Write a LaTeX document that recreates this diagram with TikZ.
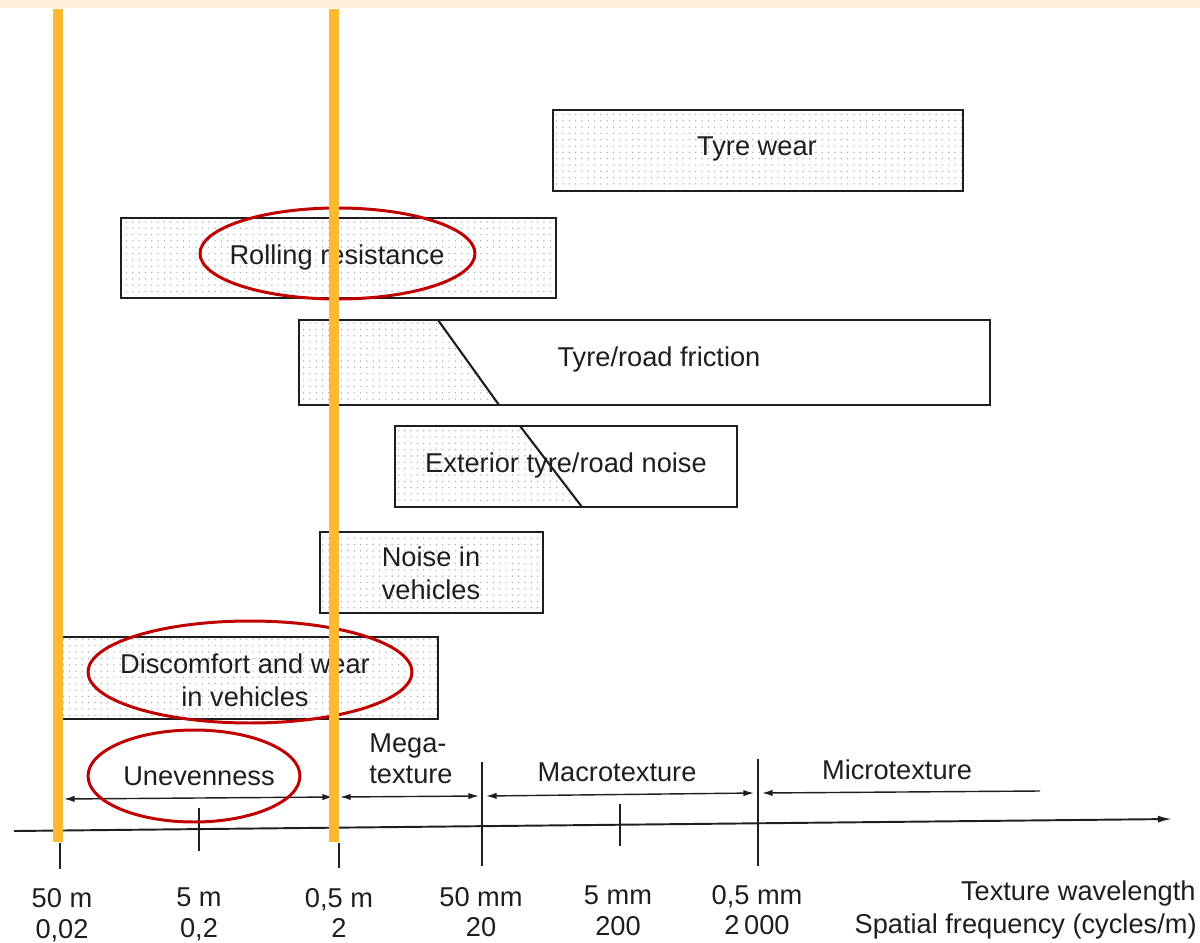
\documentclass[tikz,border=0pt]{standalone}
\usepackage{fontspec}
\setmainfont{Liberation Sans}
\usetikzlibrary{shapes.geometric,patterns.meta,arrows.meta}
\definecolor{ink}{HTML}{1E1E1E}
\definecolor{band}{HTML}{FFEFDA}
\definecolor{orangeline}{HTML}{FDB930}
\definecolor{redring}{HTML}{C00000}
\begin{document}
\begin{tikzpicture}[x=0.02cm,y=-0.02cm,
  lbl/.style={font=\fontsize{15.5}{18.5}\selectfont, text=ink, inner sep=0pt, align=center},
  box/.style={draw=ink, line width=1.2pt, inner sep=0pt, outer sep=0pt},
  dotfill/.style={pattern={Dots[distance=3.6pt,radius=0.42pt]}, pattern color=black!35},
  ring/.style={ellipse, draw=redring, line width=1.7pt, inner sep=0pt, outer sep=0pt},
  marker/.style={draw=orangeline, line width=0.2cm},
  axisline/.style={draw=ink, line width=1.1pt},
  tickline/.style={draw=ink, line width=0.8pt},
  spanline/.style={draw=ink, line width=0.8pt}
]
\useasboundingbox (0,0) rectangle (1200,943);
\fill[band] (0,0) rectangle (1200,8);

% ---- boxes ----
\node[box, dotfill, minimum width=8.2cm, minimum height=1.62cm] (tw) at (758,150.5) {};
\node[lbl] (twt) at (757,149) {Tyre wear};

\node[box, dotfill, minimum width=8.7cm, minimum height=1.6cm] (rr) at (338.5,258) {};
\node[lbl] (rrt) at (337,257) {Rolling resistance};

\coordinate (frA) at (438,320);
\coordinate (frB) at (499,405);
\fill[dotfill] (299,320) -- (frA) -- (frB) -- (299,405) -- cycle;
\node[box, minimum width=13.82cm, minimum height=1.7cm] (fr) at (644.5,362.5) {};
\draw[box] (frA) -- (frB);
\node[lbl] (frt) at (659,359) {Tyre/road friction};

\coordinate (exA) at (520,426);
\coordinate (exB) at (582,507);
\fill[dotfill] (395,426) -- (exA) -- (exB) -- (395,507) -- cycle;
\node[box, minimum width=6.84cm, minimum height=1.62cm] (ex) at (566,466.5) {};
\draw[box] (exA) -- (exB);
\node[lbl] (ext) at (566,465) {Exterior tyre/road noise};

\node[box, dotfill, minimum width=4.46cm, minimum height=1.62cm] (nv) at (431.5,572.5) {};
\node[lbl, font=\fontsize{15.5}{19}\selectfont] (nvt) at (431,573) {Noise in\\vehicles};

\node[box, dotfill, minimum width=7.52cm, minimum height=1.64cm] (dc) at (250,678) {};
\node[lbl, font=\fontsize{15.5}{19}\selectfont] (dct) at (245,680) {Discomfort and wear\\in vehicles};

% ---- axis ----
\coordinate (ax0) at (14,831);
\coordinate (ax1) at (1172,819);
\draw[axisline, -{Latex[length=8pt,width=4pt]}] (ax0) -- (ax1);

% ticks
\coordinate (t1a) at (60,843);  \coordinate (t1b) at (60,869);
\coordinate (t2a) at (199,808); \coordinate (t2b) at (199,851);
\coordinate (t3a) at (339,843); \coordinate (t3b) at (339,868);
\coordinate (t4a) at (482,762); \coordinate (t4b) at (482,866);
\coordinate (t5a) at (620,804); \coordinate (t5b) at (620,846);
\coordinate (t6a) at (758,759); \coordinate (t6b) at (758,866);
\foreach \t in {1,...,6} \draw[tickline] (t\t a) -- (t\t b);

% ranges
\coordinate (u0) at (64,799);  \coordinate (u1) at (333,797);
\coordinate (m0) at (340,797); \coordinate (m1) at (479,796);
\coordinate (c0) at (486,796); \coordinate (c1) at (754,793);
\coordinate (i0) at (762,793); \coordinate (i1) at (1040,791);
\draw[spanline, {Latex[length=6pt,width=3.6pt]}-{Latex[length=6pt,width=3.6pt]}] (u0) -- (u1);
\draw[spanline, {Latex[length=6pt,width=3.6pt]}-{Latex[length=6pt,width=3.6pt]}] (m0) -- (m1);
\draw[spanline, {Latex[length=6pt,width=3.6pt]}-{Latex[length=6pt,width=3.6pt]}] (c0) -- (c1);
\draw[spanline, {Latex[length=6pt,width=3.6pt]}-] (i0) -- (i1);

\node[lbl] (un) at (199,776) {Unevenness};
\node[lbl, align=left, anchor=west, font=\fontsize{15.5}{17.5}\selectfont] (mg) at (369,759) {Mega-\\texture};
\node[lbl] (ma) at (617,772) {Macrotexture};
\node[lbl] (mi) at (897,770) {Microtexture};

% bottom labels
\node[lbl, font=\fontsize{15.5}{17.5}\selectfont] (b1) at (62,915) {50 m\\0,02};
\node[lbl, font=\fontsize{15.5}{17.5}\selectfont] (b2) at (199,914) {5 m\\0,2};
\node[lbl, font=\fontsize{15.5}{17.5}\selectfont] (b3) at (339,913) {0,5 m\\2};
\node[lbl, font=\fontsize{15.5}{17.5}\selectfont] (b4) at (481,912) {50 mm\\20};
\node[lbl, font=\fontsize{15.5}{17.5}\selectfont] (b5) at (618,911) {5 mm\\200};
\node[lbl, font=\fontsize{15.5}{17.5}\selectfont] (b6) at (757,910) {0,5 mm\\2\,000};
\node[lbl, anchor=east] (tl) at (1196,893) {Texture wavelength};
\node[lbl, anchor=east] (sf) at (1197,926) {Spatial frequency (cycles/m)};

% ---- red ellipses ----
\node[ring, minimum width=5.5cm, minimum height=1.82cm] (e1) at (337.5,253.5) {};
\node[ring, minimum width=6.48cm, minimum height=2.04cm] (e2) at (250,672) {};
\node[ring, minimum width=4.24cm, minimum height=1.84cm] (e3) at (194,776) {};

% ---- orange markers ----
\coordinate (o1a) at (58,9);  \coordinate (o1b) at (58,842);
\coordinate (o2a) at (334,9); \coordinate (o2b) at (334,842);
\draw[marker] (o1a) -- (o1b);
\draw[marker] (o2a) -- (o2b);
\end{tikzpicture}
\end{document}
